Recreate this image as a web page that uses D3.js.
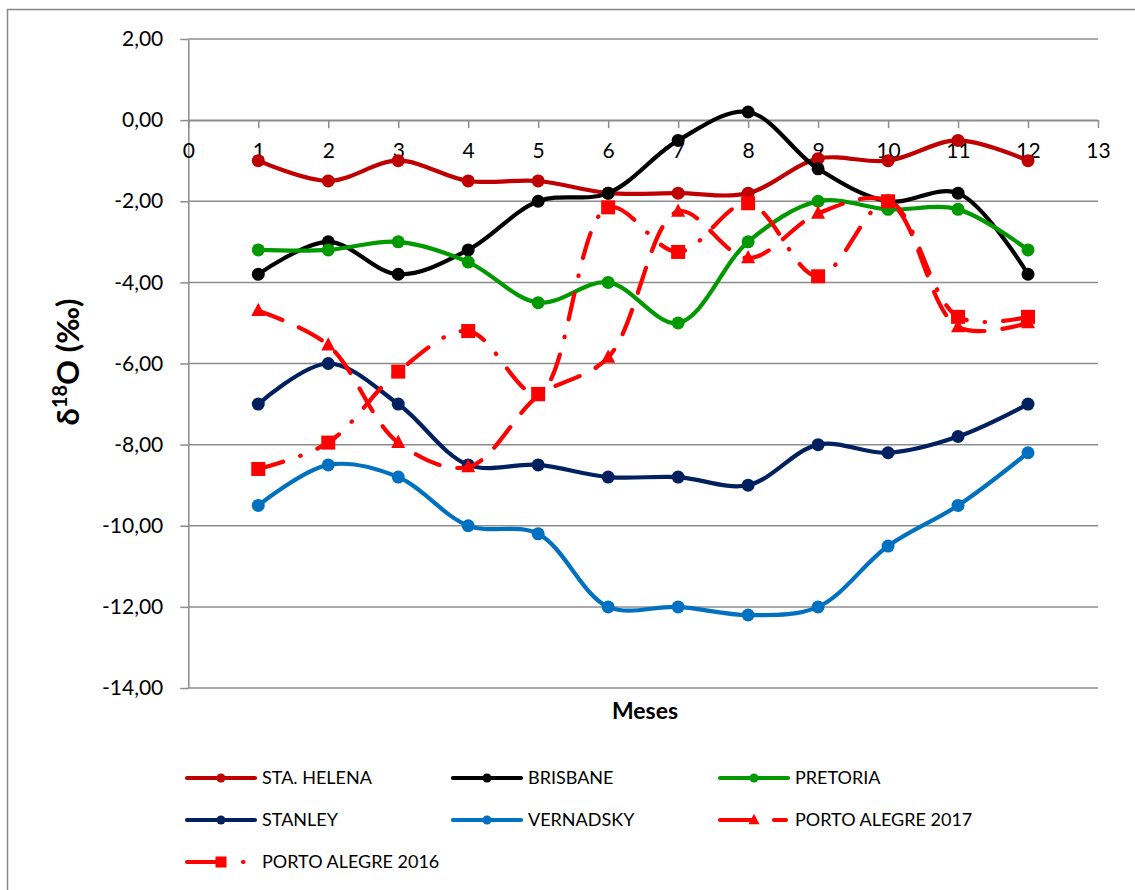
<!DOCTYPE html>
<html><head><meta charset="utf-8">
<script src="https://cdn.jsdelivr.net/npm/d3@7"></script>
<style>body{margin:0;background:#fff;overflow:hidden}</style>
</head><body>
<script>
// ---- data ----
const months = [1,2,3,4,5,6,7,8,9,10,11,12];
const xTicks = [0,1,2,3,4,5,6,7,8,9,10,11,12,13];
const yTicks = [2,0,-2,-4,-6,-8,-10,-12,-14];
const staHelena   = [-1.0,-1.5,-1.0,-1.5,-1.5,-1.8,-1.8,-1.8,-0.95,-1.0,-0.5,-1.0];
const brisbane    = [-3.8,-3.0,-3.8,-3.2,-2.0,-1.8,-0.5,0.2,-1.2,-2.0,-1.8,-3.8];
const pretoria    = [-3.2,-3.2,-3.0,-3.5,-4.5,-4.0,-5.0,-3.0,-2.0,-2.2,-2.2,-3.2];
const stanley     = [-7.0,-6.0,-7.0,-8.5,-8.5,-8.8,-8.8,-9.0,-8.0,-8.2,-7.8,-7.0];
const vernadsky   = [-9.5,-8.5,-8.8,-10.0,-10.2,-12.0,-12.0,-12.2,-12.0,-10.5,-9.5,-8.2];
const portoAlegre2017 = [-4.7,-5.55,-7.95,-8.55,-6.8,-5.85,-2.25,-3.4,-2.3,-2.0,-5.1,-5.0];
const portoAlegre2016 = [-8.6,-7.95,-6.2,-5.2,-6.75,-2.15,-3.25,-2.05,-3.85,-2.0,-4.85,-4.85];
const seriesNames = ["STA. HELENA","BRISBANE","PRETORIA","STANLEY","VERNADSKY","PORTO ALEGRE 2017","PORTO ALEGRE 2016"];

const seriesStyle = [
  {values: staHelena, color:"#C00000", marker:"circle", dash:null},
  {values: brisbane, color:"#000000", marker:"circle", dash:null},
  {values: pretoria, color:"#009A00", marker:"circle", dash:null},
  {values: stanley, color:"#002060", marker:"circle", dash:null},
  {values: vernadsky, color:"#0070C0", marker:"circle", dash:null},
  {values: portoAlegre2017, color:"#FF0000", marker:"triangle", dash:"26,18"},
  {values: portoAlegre2016, color:"#FF0000", marker:"square", dash:"26,18,0.5,18"}
];

const W = 1135, H = 890;
const svg = d3.select("body").append("svg").attr("width", W).attr("height", H);

// outer border
svg.append("rect").attr("x",7.5).attr("y",9.5).attr("width",1150).attr("height",900)
  .attr("fill","#fff").attr("stroke","#888").attr("stroke-width",1.5);

const x = d3.scaleLinear().domain([0,13]).range([188.3,1098]);
const y = d3.scaleLinear().domain([-14,2]).range([688,39]);

const loc = d3.formatLocale({decimal:",", thousands:".", grouping:[3], currency:["",""], minus:"-"});
const fmt = loc.format(".2f");
const FONT = "Lato, 'Liberation Sans', sans-serif";
const grid = "#8c8c8c";

// gridlines
svg.append("g").selectAll("line").data(yTicks).join("line")
  .attr("x1", x(0)).attr("x2", x(13))
  .attr("y1", d=>y(d)).attr("y2", d=>y(d))
  .attr("stroke", grid).attr("stroke-width",1.5);

// y axis at x=0
const yAxis = svg.append("g").attr("transform",`translate(${x(0)},0)`)
  .call(d3.axisLeft(y).tickValues(yTicks).tickFormat(fmt).tickSize(8).tickSizeOuter(0).tickPadding(17));
yAxis.select(".domain").attr("stroke",grid).attr("stroke-width",1.5);
yAxis.selectAll(".tick line").attr("stroke",grid).attr("stroke-width",1.5);
yAxis.selectAll(".tick text").attr("font-family",FONT).attr("font-size",21).attr("fill","#000");

// x axis at y=0
const xAxis = svg.append("g").attr("transform",`translate(0,${y(0)})`)
  .call(d3.axisBottom(x).tickValues(xTicks).tickFormat(d3.format("d")).tickSize(8).tickSizeOuter(0).tickPadding(15));
xAxis.select(".domain").attr("stroke",grid).attr("stroke-width",1.5);
xAxis.selectAll(".tick line").attr("stroke",grid).attr("stroke-width",1.5);
xAxis.selectAll(".tick text").attr("font-family",FONT).attr("font-size",21).attr("fill","#000");

// axis titles
svg.append("text").attr("x",645).attr("y",719).attr("text-anchor","middle")
  .attr("font-family",FONT).attr("font-weight","bold").attr("font-size",23).text("Meses");
const yt = svg.append("text").attr("transform","translate(79,362) rotate(-90)").attr("text-anchor","middle")
  .attr("font-family",FONT).attr("font-weight","bold").attr("font-size",31);
yt.append("tspan").text("δ");
yt.append("tspan").attr("font-size",20).attr("dy",-12).text("18");
yt.append("tspan").attr("dy",12).text("O (‰)");

// markers
function drawMarker(g, type, cx, cy, color, size){
  if(type==="circle"){
    g.append("circle").attr("cx",cx).attr("cy",cy).attr("r",size/2).attr("fill",color);
  } else if(type==="square"){
    g.append("rect").attr("x",cx-size/2).attr("y",cy-size/2).attr("width",size).attr("height",size).attr("fill",color);
  } else {
    const h = size*0.95;
    g.append("path").attr("d",`M${cx},${cy-h*0.6}L${cx+size/2},${cy+h*0.4}L${cx-size/2},${cy+h*0.4}Z`).attr("fill",color);
  }
}

const line = d3.line().x((d,i)=>x(months[i])).y(d=>y(d)).curve(d3.curveCatmullRom.alpha(0.5));

seriesStyle.forEach((s)=>{
  const g = svg.append("g");
  g.append("path").attr("d", line(s.values)).attr("fill","none").attr("stroke",s.color)
    .attr("stroke-width",4.2).attr("stroke-linecap","round")
    .attr("stroke-linejoin","round")
    .attr("stroke-dasharray", s.dash);
  s.values.forEach((v,i)=>{
    const sz = s.marker==="circle"?13: 14;
    drawMarker(g, s.marker, x(months[i]), y(v), s.color, sz);
  });
});

// legend
const colX = [185,451,718], rowY = [778,820,862];
seriesStyle.forEach((s,i)=>{
  const cx = colX[i%3], cy = rowY[Math.floor(i/3)];
  const g = svg.append("g");
  if(s.dash){
    const dashes = s.marker==="triangle" ? "32,22,12,30" : "32,24,0.5,30";
    g.append("line").attr("x1",cx+2).attr("x2",cx+72).attr("y1",cy).attr("y2",cy)
      .attr("stroke",s.color).attr("stroke-width",4.2).attr("stroke-linecap","round")
      .attr("stroke-dasharray",dashes);
  } else {
    g.append("line").attr("x1",cx+2).attr("x2",cx+70).attr("y1",cy).attr("y2",cy)
      .attr("stroke",s.color).attr("stroke-width",4.2).attr("stroke-linecap","round");
  }
  drawMarker(g, s.marker, cx+36, cy, s.color, s.marker==="circle"?9:11);
  g.append("text").attr("x",cx+77).attr("y",cy+6).attr("font-family",FONT).attr("font-size",18)
    .attr("fill","#000").text(seriesNames[i]);
});
</script>
</body></html>
